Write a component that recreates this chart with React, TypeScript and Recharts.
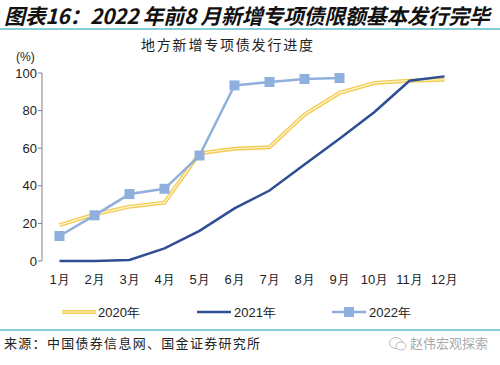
import React from "react";
import { LineChart, Line, XAxis, YAxis } from "recharts";

const months = ["1月", "2月", "3月", "4月", "5月", "6月", "7月", "8月", "9月", "10月", "11月", "12月"];
const s2020 = [19.1, 24.8, 28.9, 31, 57.3, 59.7, 60.5, 77.9, 89.4, 94.7, 95.9, 96.4];
const s2021 = [0, 0, 0.5, 6.7, 16, 28, 37.5, 51.3, 65, 79.3, 95.9, 98.2];
const s2022 = [13.3, 24.3, 35.6, 38.4, 56.1, 93.4, 95.2, 96.8, 97.3];
const yTicks = [0, 20, 40, 60, 80, 100];

const data = months.map((label, i) => ({
  m: i + 1,
  label,
  y2020: s2020[i],
  y2021: s2021[i],
  y2022: i < s2022.length ? s2022[i] : null,
}));
const centerTicks = months.map((_, i) => i + 1);
const edgeTicks = [...months.map((_, i) => i + 0.5), months.length + 0.5];

const C2020 = "#F3CC55";
const C2020in = "#FFF6D2";
const C2021 = "#2E4E93";
const C2022 = "#8FB0DE";
const TEAL = "#86CDD8";

const Square = (props: any) => {
  const { cx, cy, value } = props;
  if (value == null || cx == null) return null;
  return <rect x={cx - 5} y={cy - 5} width={10} height={10} fill={C2022} />;
};

const font = "'Liberation Sans', Arial, sans-serif";
const cjk = "'Noto Sans CJK SC', sans-serif";

export default function App() {
  return (
    <div style={{ position: "absolute", left: 0, top: 0, width: 500, height: 365, background: "#fff", overflow: "hidden" }}>
      <div style={{ position: "absolute", left: 4, top: 2, fontFamily: cjk, fontSize: 21, fontWeight: 700, fontStyle: "italic", letterSpacing: -0.35, color: "#111", whiteSpace: "nowrap", lineHeight: "26px" }}>
        图表16：2022 年前8 月新增专项债限额基本发行完毕
      </div>
      <div style={{ position: "absolute", left: 0, top: 28, width: 500, height: 2, background: TEAL }} />
      <div style={{ position: "absolute", left: 141, top: 35, fontFamily: cjk, fontSize: 14, letterSpacing: 1.8, color: "#222", whiteSpace: "nowrap", lineHeight: "18px" }}>
        地方新增专项债发行进度
      </div>
      <div style={{ position: "absolute", left: 16, top: 49, fontFamily: font, fontSize: 12, color: "#222", lineHeight: "16px" }}>(%)</div>
      <div style={{ position: "absolute", left: 0, top: 0 }}>
        <LineChart width={500} height={365} data={data} margin={{ top: 73, right: 38, bottom: 74, left: 0 }}>
          <XAxis
            dataKey="m"
            type="number"
            domain={[0.5, 12.5]}
            ticks={centerTicks}
            tickFormatter={(v: number) => months[v - 1]}
            tickLine={false}
            axisLine={false}
            tick={{ fill: "#222", fontSize: 13, fontFamily: font }}
            tickMargin={8}
            interval={0}
            height={30}
          />
          <XAxis
            xAxisId="edge"
            dataKey="m"
            type="number"
            domain={[0.5, 12.5]}
            ticks={edgeTicks}
            tick={false}
            tickSize={5}
            tickLine={{ stroke: "#808080" }}
            axisLine={{ stroke: "#808080" }}
            interval={0}
            height={0}
          />
          <YAxis
            domain={[0, 100]}
            ticks={yTicks}
            width={42}
            tickSize={4}
            tickLine={{ stroke: "#808080" }}
            axisLine={{ stroke: "#808080" }}
            tick={{ fill: "#222", fontSize: 13, fontFamily: font }}
            tickMargin={1}
          />
          <Line dataKey="y2020" stroke={C2020} strokeWidth={4} dot={false} isAnimationActive={false} />
          <Line dataKey="y2020" stroke={C2020in} strokeWidth={1.2} dot={false} isAnimationActive={false} />
          <Line dataKey="y2021" stroke={C2021} strokeWidth={2.5} dot={false} isAnimationActive={false} />
          <Line dataKey="y2022" stroke={C2022} strokeWidth={2.5} dot={<Square />} isAnimationActive={false} connectNulls={false} />
        </LineChart>
      </div>
      {/* legend */}
      <svg style={{ position: "absolute", left: 0, top: 300 }} width={500} height={25}>
        <line x1={62} x2={96} y1={12} y2={12} stroke={C2020} strokeWidth={4} />
        <line x1={62} x2={96} y1={12} y2={12} stroke={C2020in} strokeWidth={1.2} />
        <line x1={197} x2={231} y1={12} y2={12} stroke={C2021} strokeWidth={2.5} />
        <line x1={332} x2={366} y1={12} y2={12} stroke={C2022} strokeWidth={2.5} />
        <rect x={344} y={7} width={10} height={10} fill={C2022} />
        <text x={98} y={17} fontFamily={font} fontSize={13} fill="#222">2020年</text>
        <text x={234} y={17} fontFamily={font} fontSize={13} fill="#222">2021年</text>
        <text x={369} y={17} fontFamily={font} fontSize={13} fill="#222">2022年</text>
      </svg>
      <div style={{ position: "absolute", left: 0, top: 329, width: 500, height: 2, background: TEAL }} />
      <div style={{ position: "absolute", left: 4, top: 334, fontFamily: cjk, fontSize: 13, letterSpacing: 1.3, color: "#222", whiteSpace: "nowrap", lineHeight: "18px" }}>
        来源：中国债券信息网、国金证券研究所
      </div>
      <svg style={{ position: "absolute", left: 388, top: 335 }} width={20} height={18}>
        <ellipse cx={8} cy={8} rx={6.5} ry={5.5} fill="none" stroke="#bbb" strokeWidth={1} />
        <ellipse cx={13} cy={11} rx={5} ry={4} fill="#fff" stroke="#bbb" strokeWidth={1} />
      </svg>
      <div style={{ position: "absolute", left: 410, top: 334, fontFamily: cjk, fontSize: 13, color: "#aaa", whiteSpace: "nowrap", lineHeight: "18px" }}>
        赵伟宏观探索
      </div>
    </div>
  );
}
